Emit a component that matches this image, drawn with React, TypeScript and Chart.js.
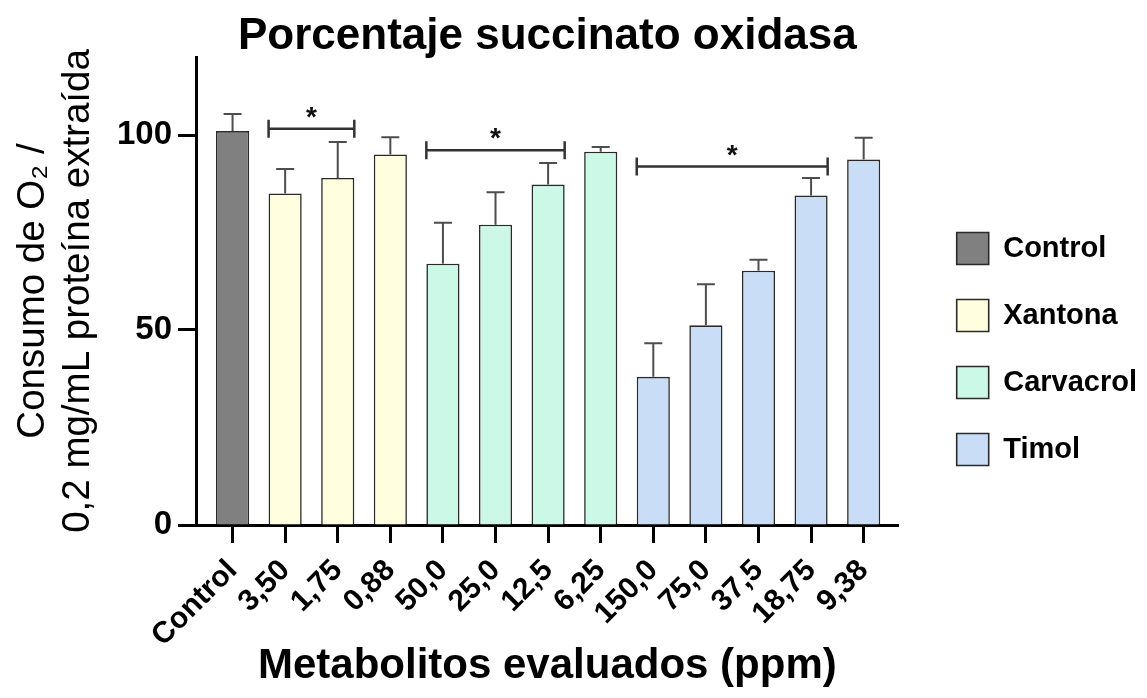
import React, { useEffect, useRef } from 'react';
import { Chart, registerables } from 'chart.js';

Chart.register(...registerables);

const FONT = "'Liberation Sans', Arial, Helvetica, sans-serif";

const categories = ['Control', '3,50', '1,75', '0,88', '50,0', '25,0', '12,5', '6,25', '150,0', '75,0', '37,5', '18,75', '9,38'];

const controlValues = [101];
const xantonaValues = [85, 89, 95];
const carvacrolValues = [67, 77, 87.3, 95.7];
const timolValues = [38, 51.2, 65.2, 84.5, 93.7];

const controlErrors = [4.4];
const xantonaErrors = [6.3, 9.2, 4.4];
const carvacrolErrors = [10.5, 8.3, 5.5, 1.2];
const timolErrors = [8.6, 10.5, 2.8, 4.5, 5.6];

// significance brackets (category indices and height in data units)
const bracketStart = [1, 4, 8];
const bracketEnd = [2, 6, 11];
const bracketY = [101.6, 96.1, 91.9];
const bracketMark = ['*', '*', '*'];

const yTicks = [0, 50, 100];

const allValues = [...controlValues, ...xantonaValues, ...carvacrolValues, ...timolValues];
const allErrors = [...controlErrors, ...xantonaErrors, ...carvacrolErrors, ...timolErrors];

const BAR_PCT = 0.63;

const annotations = {
  id: 'annotations',
  afterDatasetsDraw(chart: any) {
    const { ctx, scales } = chart;
    const x = scales.x;
    const y = scales.y;
    ctx.save();
    // error bars (upper only)
    ctx.strokeStyle = '#4d4d4d';
    ctx.lineWidth = 2;
    ctx.lineCap = 'butt';
    allValues.forEach((v, i) => {
      const px = x.getPixelForValue(i);
      const y0 = y.getPixelForValue(v);
      const y1 = y.getPixelForValue(v + allErrors[i]);
      ctx.beginPath();
      ctx.moveTo(px, y0);
      ctx.lineTo(px, y1);
      ctx.moveTo(px - 9, y1);
      ctx.lineTo(px + 9, y1);
      ctx.stroke();
    });
    // brackets
    const unit = x.getPixelForValue(1) - x.getPixelForValue(0);
    const half = (unit * BAR_PCT) / 2;
    ctx.strokeStyle = '#333333';
    ctx.lineWidth = 2.5;
    ctx.fillStyle = '#111111';
    ctx.font = `bold 28px ${FONT}`;
    ctx.textAlign = 'center';
    ctx.textBaseline = 'alphabetic';
    bracketStart.forEach((s, k) => {
      const x0 = x.getPixelForValue(s) - half;
      const x1 = x.getPixelForValue(bracketEnd[k]) + half;
      const py = y.getPixelForValue(bracketY[k]);
      ctx.beginPath();
      ctx.moveTo(x0, py);
      ctx.lineTo(x1, py);
      ctx.moveTo(x0, py - 9);
      ctx.lineTo(x0, py + 9);
      ctx.moveTo(x1, py - 9);
      ctx.lineTo(x1, py + 9);
      ctx.stroke();
      ctx.fillText(bracketMark[k], (x0 + x1) / 2, py - 3);
    });
    ctx.restore();
  },
};

function makeDataset(label: string, values: number[], start: number, bg: string) {
  return {
    label,
    data: values.map((v, i) => ({ x: start + i, y: v })),
    backgroundColor: bg,
    borderColor: '#2a2a2a',
    borderWidth: 1.6,
    barPercentage: BAR_PCT,
    categoryPercentage: 1,
    grouped: false,
  };
}

export default function App() {
  const canvasRef = useRef<HTMLCanvasElement>(null);

  useEffect(() => {
    if (!canvasRef.current) return;
    Chart.defaults.color = '#000';
    Chart.defaults.font.family = FONT;

    const chart = new Chart(canvasRef.current, {
      type: 'bar',
      data: {
        datasets: [
          makeDataset('Control', controlValues, 0, '#808080'),
          makeDataset('Xantona', xantonaValues, 1, '#ffffe0'),
          makeDataset('Carvacrol', carvacrolValues, 4, '#ccf8e8'),
          makeDataset('Timol', timolValues, 8, '#c9ddf7'),
        ] as any,
      },
      options: {
        animation: false,
        responsive: true,
        maintainAspectRatio: false,
        layout: { padding: { left: 0, top: 0, bottom: 0, right: 0 } },
        plugins: {
          title: {
            display: true,
            text: 'Porcentaje succinato oxidasa',
            color: '#000',
            fullSize: false,
            font: { size: 44, weight: 'bold', lineHeight: 1, family: FONT },
            padding: { top: 15, bottom: -2 },
          },
          legend: {
            display: true,
            position: 'right',
            maxWidth: 320,
            labels: {
              boxWidth: 32,
              boxHeight: 32,
              padding: 35,
              color: '#000',
              font: { size: 29, weight: 'bold', family: FONT },
            },
          },
          tooltip: { enabled: false },
        },
        scales: {
          x: {
            type: 'linear',
            min: -0.695,
            max: 12.666,
            offset: false,
            grid: {
              display: true,
              offset: false,
              drawOnChartArea: false,
              drawTicks: true,
              tickLength: 18,
              tickWidth: 3,
              tickColor: '#000',
            },
            border: { display: true, width: 3, color: '#000' },
            ticks: {
              stepSize: 1,
              includeBounds: false,
              autoSkip: false,
              maxRotation: 45,
              minRotation: 45,
              padding: 10,
              color: '#000',
              font: { size: 30, weight: 'bold', family: FONT },
              callback: (v: any) => categories[v] ?? '',
            },
            title: {
              display: true,
              text: 'Metabolitos evaluados (ppm)',
              color: '#000',
              font: { size: 42, weight: 'bold', lineHeight: 1.2, family: FONT },
              padding: { top: 0, bottom: 6 },
            },
            afterFit: (s: any) => {
              s.height = 173;
            },
          },
          y: {
            type: 'linear',
            min: 0,
            max: 120,
            grid: {
              display: true,
              drawOnChartArea: false,
              drawTicks: true,
              tickLength: 18,
              tickWidth: 3,
              tickColor: '#000',
            },
            border: { display: true, width: 3, color: '#000' },
            afterBuildTicks: (s: any) => {
              s.ticks = yTicks.map((v) => ({ value: v }));
            },
            ticks: {
              padding: 6,
              color: '#000',
              font: { size: 33, weight: 'bold', family: FONT },
            },
            title: {
              display: true,
              text: ['Consumo de O\u2082 /', '0,2 mg/mL prote\u00edna extra\u00edda'],
              color: '#000',
              font: { size: 38.5, weight: 'normal', lineHeight: 1.17, family: FONT },
              padding: { top: 11, bottom: 0 },
            },
            afterFit: (s: any) => {
              s.width = 196;
            },
          },
          gap: {
            type: 'linear',
            position: 'right',
            display: true,
            grid: { display: false },
            border: { display: false },
            ticks: { display: false },
            afterFit: (s: any) => {
              s.width = 23;
            },
          },
        },
      } as any,
      plugins: [annotations],
    });

    return () => {
      chart.destroy();
    };
  }, []);

  return (
    <div style={{ position: 'fixed', left: 0, top: 0, width: 1147, height: 698, background: '#fff' }}>
      <canvas ref={canvasRef} />
    </div>
  );
}
